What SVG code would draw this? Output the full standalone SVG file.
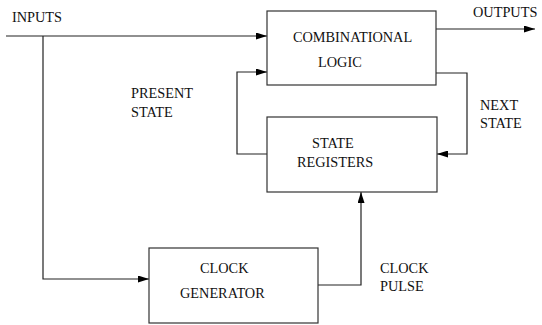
<svg xmlns="http://www.w3.org/2000/svg" width="542" height="325" viewBox="0 0 542 325" font-family="'Times New Roman', 'Liberation Serif', 'DejaVu Serif', serif" font-size="14.3">
<defs>
<marker id="ah" markerWidth="11" markerHeight="7" refX="11" refY="3.5" orient="auto" markerUnits="userSpaceOnUse">
<path d="M0,0 L11,3.5 L0,7 z" fill="#000"/>
</marker>
</defs>
<style>
.box{fill:#fff;stroke:#333;stroke-width:1.2}
.ln{fill:none;stroke:#222;stroke-width:1.2}
</style>
<rect width="542" height="325" fill="#fff"/>
<g id="connectors">
<path class="ln" d="M6,36 H267" marker-end="url(#ah)"/>
<path class="ln" d="M43,36 V279 H149" marker-end="url(#ah)"/>
<path class="ln" d="M436,29 H535" marker-end="url(#ah)"/>
<path class="ln" d="M436,73 H467 V154 H437" marker-end="url(#ah)"/>
<path class="ln" d="M267,154 H237 V72 H267" marker-end="url(#ah)"/>
<path class="ln" d="M318,285 H361 V192" marker-end="url(#ah)"/>
</g>
<g id="comb">
<rect class="box" x="267" y="11" width="169" height="74"/>
<text x="293" y="42" fill="#111">COMBINATIONAL</text>
<text x="318" y="67" fill="#111">LOGIC</text>
</g>
<g id="regs">
<rect class="box" x="267" y="117" width="170" height="75"/>
<text x="312" y="148" fill="#111">STATE</text>
<text x="297" y="167" fill="#111">REGISTERS</text>
</g>
<g id="clock">
<rect class="box" x="149" y="248" width="169" height="75"/>
<text x="200" y="273" fill="#111">CLOCK</text>
<text x="180" y="298" fill="#111">GENERATOR</text>
</g>
<g id="labels">
<text x="12" y="22" fill="#111">INPUTS</text>
<text x="473" y="17" fill="#111">OUTPUTS</text>
<text x="131" y="98" fill="#111">PRESENT</text>
<text x="131" y="117" fill="#111">STATE</text>
<text x="480" y="110" fill="#111">NEXT</text>
<text x="480" y="128" fill="#111">STATE</text>
<text x="380" y="273" fill="#111">CLOCK</text>
<text x="380" y="291" fill="#111">PULSE</text>
</g>
</svg>
